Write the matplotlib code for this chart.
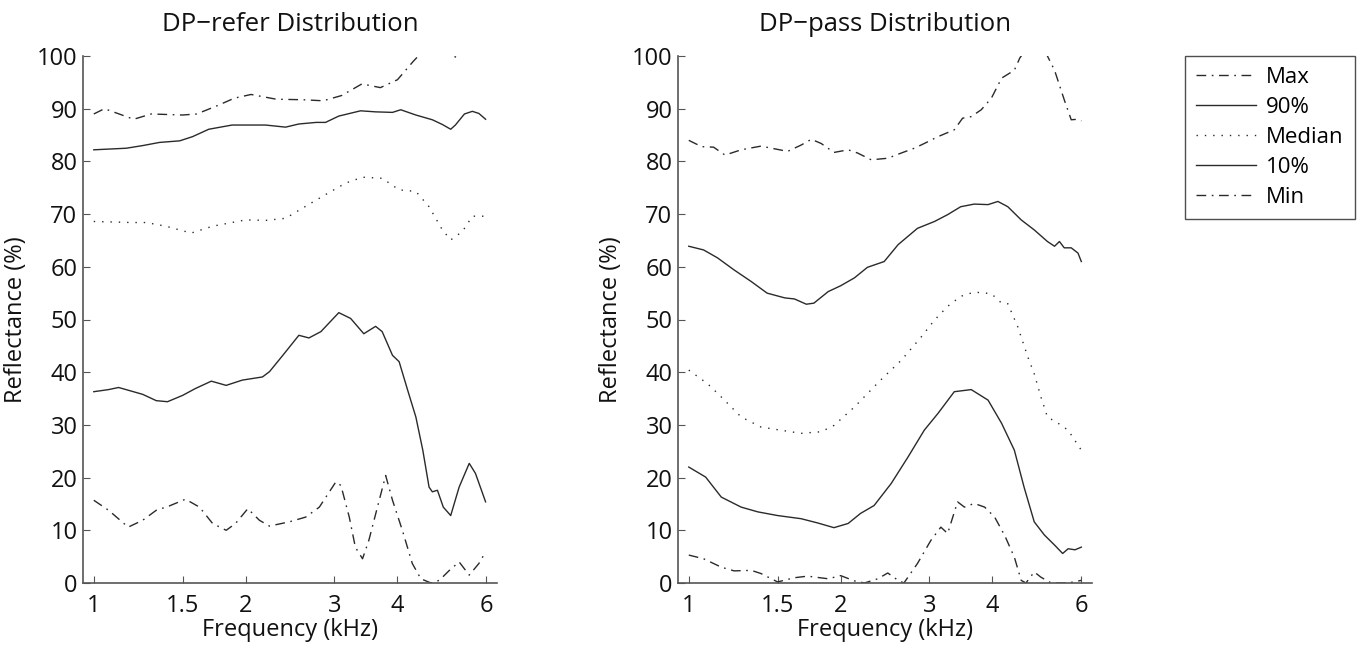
import numpy as np
import matplotlib.pyplot as plt
from matplotlib.ticker import FixedLocator, FixedFormatter, NullLocator

plt.rcParams['font.family'] = ['Open Sans', 'DejaVu Sans']

# DP-refer (left panel)
refer_max_f = [1.0, 1.05, 1.2, 1.3, 1.5, 1.6, 1.75, 1.9, 2.05, 2.3, 2.6, 2.85, 3.1, 3.4, 3.7, 4.0,
               4.3, 4.45, 4.8, 5.0, 5.25, 5.5, 6.0]
refer_max = [89, 90, 88, 89, 88.8, 89, 90.5, 92, 92.7, 91.8, 91.7, 91.5, 92.5, 94.7, 94, 95.5,
             99, 100.5, 103, 101, 99.6, 102, 104]

refer_p90_f = [1.0, 1.16, 1.25, 1.35, 1.48, 1.57, 1.69, 1.88, 2.06, 2.19, 2.40, 2.55, 2.76, 2.88,
               3.06, 3.38, 3.62, 3.91, 4.06, 4.35, 4.69, 4.91, 5.10, 5.21, 5.43, 5.63, 5.80, 5.98]
refer_p90 = [82.2, 82.5, 83, 83.6, 83.9, 84.7, 86.1, 86.9, 86.9, 86.9, 86.5, 87.1, 87.4, 87.4,
             88.6, 89.6, 89.4, 89.3, 89.8, 88.8, 87.9, 87, 86.1, 86.9, 89, 89.5, 89.1, 88]

refer_med_f = [1.0, 1.19, 1.27, 1.39, 1.56, 1.72, 2.0, 2.19, 2.40, 2.59, 2.88, 3.16, 3.41, 3.73,
               4.03, 4.35, 4.62, 4.91, 5.10, 5.38, 5.63, 5.98]
refer_med = [68.6, 68.4, 68.4, 67.7, 66.4, 67.7, 68.9, 68.8, 69.2, 71.1, 73.7, 75.9, 77, 76.8,
             74.6, 74.3, 71.4, 67, 65.1, 66.7, 69.6, 69.6]

refer_p10_f = [1.0, 1.07, 1.12, 1.25, 1.33, 1.40, 1.50, 1.59, 1.71, 1.83, 1.97, 2.16, 2.23, 2.37,
               2.55, 2.67, 2.82, 3.06, 3.23, 3.43, 3.62, 3.73, 3.91, 4.03, 4.19, 4.35, 4.49, 4.62,
               4.69, 4.80, 4.93, 5.10, 5.30, 5.55, 5.71, 5.98]
refer_p10 = [36.3, 36.7, 37.1, 35.8, 34.6, 34.4, 35.6, 36.9, 38.3, 37.5, 38.5, 39.1, 40.1, 43.2,
             47, 46.5, 47.7, 51.3, 50.2, 47.3, 48.7, 47.7, 43.2, 42, 36.6, 31.5, 25.2, 18.2,
             17.3, 17.6, 14.4, 12.8, 18.2, 22.7, 20.8, 15.4]

refer_min_f = [1.0, 1.07, 1.17, 1.25, 1.33, 1.41, 1.52, 1.62, 1.72, 1.83, 1.91, 2.02, 2.13, 2.23,
               2.44, 2.63, 2.80, 3.02, 3.09, 3.21, 3.30, 3.41, 3.51, 3.68, 3.79, 3.91, 4.09, 4.28,
               4.45, 4.66, 4.84, 5.07, 5.30, 5.55, 5.80, 5.98]
refer_min = [15.7, 13.8, 10.6, 11.9, 13.8, 14.6, 15.9, 14.4, 11.3, 10, 11.3, 14.1, 11.9, 10.8,
             11.6, 12.5, 14.4, 19.2, 18.5, 12.5, 6.8, 4.6, 8.1, 15.7, 20.4, 15.7, 10, 3.7,
             0.8, 0, 0.5, 2.4, 4, 1.5, 3.7, 5.9]

# DP-pass (right panel)
pass_max_f = [1.0, 1.06, 1.12, 1.18, 1.27, 1.39, 1.46, 1.57, 1.67, 1.75, 1.83, 1.94, 2.07, 2.16,
              2.30, 2.48, 2.64, 2.80, 2.93, 3.12, 3.36, 3.49, 3.63, 3.80, 3.98, 4.17, 4.42, 4.53,
              4.8, 5.0, 5.14, 5.31, 5.55, 5.73, 5.91, 6.0]
pass_max = [84, 82.8, 82.7, 81.2, 82.2, 82.9, 82.5, 81.9, 83.1, 84.2, 83.4, 81.7, 82.2, 81.6,
            80.3, 80.6, 81.6, 82.5, 83.4, 84.7, 86, 88.2, 88.5, 89.8, 92, 95.8, 97.3, 99.6,
            103, 102, 100, 97.3, 91.7, 87.9, 88, 87.7]

pass_p90_f = [1.0, 1.07, 1.14, 1.23, 1.33, 1.43, 1.55, 1.62, 1.71, 1.77, 1.89, 2.0, 2.13, 2.26,
              2.44, 2.60, 2.84, 3.07, 3.26, 3.46, 3.68, 3.92, 4.10, 4.29, 4.56, 4.84, 5.14, 5.31,
              5.43, 5.55, 5.73, 5.91, 6.0]
pass_p90 = [63.9, 63.2, 61.7, 59.4, 57.2, 55, 54.1, 53.9, 52.9, 53.1, 55.3, 56.4, 57.9, 59.9,
            61, 64.2, 67.3, 68.6, 69.9, 71.4, 71.9, 71.8, 72.4, 71.4, 68.9, 67, 64.8, 63.9,
            64.8, 63.6, 63.6, 62.6, 61]

pass_med_f = [1.0, 1.09, 1.16, 1.27, 1.39, 1.52, 1.67, 1.83, 1.94, 2.13, 2.40, 2.64, 2.89, 3.07,
              3.26, 3.46, 3.68, 3.98, 4.17, 4.29, 4.49, 4.70, 4.84, 4.99, 5.14, 5.40, 5.65, 6.0]
pass_med = [40.4, 37.8, 35.3, 31.5, 29.6, 29, 28.4, 28.7, 29.9, 33.4, 38.5, 42.3, 46.7, 49.9,
            52.5, 54.4, 55.2, 54.9, 53.1, 53, 48.6, 42.9, 39.7, 35.3, 31.5, 30.3, 29, 25.2]

pass_p10_f = [1.0, 1.08, 1.16, 1.27, 1.37, 1.50, 1.67, 1.80, 1.94, 2.07, 2.19, 2.33, 2.52, 2.72,
              2.93, 3.12, 3.36, 3.63, 3.92, 4.17, 4.42, 4.62, 4.84, 5.07, 5.31, 5.51, 5.65, 5.83,
              6.0]
pass_p10 = [22, 20.1, 16.3, 14.4, 13.5, 12.8, 12.2, 11.4, 10.5, 11.3, 13.2, 14.7, 18.9, 23.9,
            29, 32.2, 36.3, 36.7, 34.7, 30.3, 25.2, 18.2, 11.6, 9.1, 7.2, 5.6, 6.5, 6.3, 6.8]

pass_min_f = [1.0, 1.07, 1.16, 1.23, 1.33, 1.39, 1.50, 1.62, 1.72, 1.89, 2.0, 2.13, 2.23, 2.37,
              2.48, 2.60, 2.67, 2.84, 3.02, 3.16, 3.26, 3.41, 3.52, 3.68, 3.86, 4.04, 4.23, 4.42,
              4.56, 4.66, 4.84, 4.99, 5.23, 5.65, 6.0]
pass_min = [5.3, 4.6, 3, 2.3, 2.4, 1.8, 0.2, 1, 1.3, 0.8, 1.4, 0.4, 0, 0.8,
            1.9, 0.5, 0, 3.7, 8.1, 10.6, 9.4, 15.4, 14.4, 15.1, 14.4, 12.5, 9, 4.9,
            0.5, 0, 2.1, 1.1, 0, 0, 0.5]

xticks = [1, 1.5, 2, 3, 4, 6]
xticklabels = ['1', '1.5', '2', '3', '4', '6']
labels = ['Max', '90%', 'Median', '10%', 'Min']

line_col = '#2a2a2a'
dashdot = (0, (7, 4, 1.2, 4))
dotted = (0, (1, 5))

fig = plt.figure(figsize=(13.62, 6.54), dpi=100)
W, H = 1362, 654
ax1 = fig.add_axes([83 / W, (H - 583) / H, 414 / W, 527 / H])
ax2 = fig.add_axes([678 / W, (H - 583) / H, 414 / W, 527 / H])

panels = [
    (ax1, 'DP\u2212refer Distribution',
     [(refer_max_f, refer_max), (refer_p90_f, refer_p90), (refer_med_f, refer_med),
      (refer_p10_f, refer_p10), (refer_min_f, refer_min)]),
    (ax2, 'DP\u2212pass Distribution',
     [(pass_max_f, pass_max), (pass_p90_f, pass_p90), (pass_med_f, pass_med),
      (pass_p10_f, pass_p10), (pass_min_f, pass_min)]),
]
styles = [dashdot, '-', dotted, '-', dashdot]

handles = None
for ax, title, series in panels:
    hs = []
    for (f, v), ls, lab in zip(series, styles, labels):
        h, = ax.plot(f, v, color=line_col, lw=1.0, linestyle=ls, label=lab)
        hs.append(h)
    if handles is None:
        handles = hs
    ax.set_xscale('log')
    ax.set_xlim(0.952, 6.3)
    ax.set_ylim(0, 100)
    ax.xaxis.set_major_locator(FixedLocator(xticks))
    ax.xaxis.set_major_formatter(FixedFormatter(xticklabels))
    ax.xaxis.set_minor_locator(NullLocator())
    ax.set_yticks(np.arange(0, 101, 10))
    ax.spines['top'].set_visible(False)
    ax.spines['right'].set_visible(False)
    for s in ['left', 'bottom']:
        ax.spines[s].set_color('#555555')
        ax.spines[s].set_linewidth(1.2)
    ax.tick_params(direction='in', length=5, color='#555555', labelsize=17, labelcolor='#111111')
    ax.tick_params(axis='y', pad=4)
    ax.tick_params(axis='x', pad=8)
    ax.set_title(title, fontsize=18.5, color='#111111', pad=18)
    ax.set_xlabel('Frequency (kHz)', fontsize=17, color='#111111', labelpad=0)
    ax.set_ylabel('Reflectance (%)', fontsize=17, color='#111111', labelpad=6)

leg = fig.legend(handles, labels, loc='upper left', bbox_to_anchor=(1185 / W, 1 - 56 / H),
                 borderaxespad=0, fontsize=16, frameon=True, fancybox=False,
                 handlelength=2.7, handletextpad=0.45, labelspacing=0.4, borderpad=0.5)
leg.get_frame().set_edgecolor('#222222')
leg.get_frame().set_linewidth(1.0)

fig.savefig('out.png', dpi=100)
